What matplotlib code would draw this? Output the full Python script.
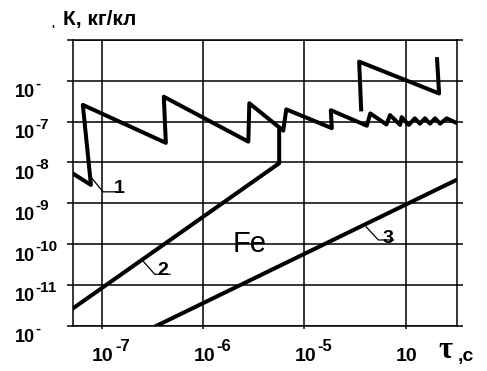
import numpy as np
from matplotlib import pyplot as plt

plt.rcParams['font.family'] = ['Liberation Sans', 'DejaVu Sans']

# all values are log10: tau in s, K in kg/C
curve1_lgt = [-7.29, -7.11, -7.19, -6.37, -6.39, -5.555, -5.545, -5.21, -5.18,
              -4.73, -4.74, -4.384, -4.35, -4.19, -4.155, -4.055, -4.04, -3.97,
              -3.91, -3.86, -3.81, -3.76, -3.71, -3.66, -3.595, -3.50]
curve1_lgk = [-8.27, -8.55, -6.59, -7.52, -6.39, -7.49, -6.55, -7.22, -6.70,
              -7.16, -6.72, -7.10, -6.80, -7.07, -6.84, -7.08, -6.89, -7.08,
              -6.92, -7.05, -6.92, -7.05, -6.92, -7.05, -6.92, -7.03]
branch_lgt = [-4.44, -4.46, -3.67, -3.69]
branch_lgk = [-6.70, -5.53, -6.31, -5.47]
curve2_lgt = [-7.29, -5.25, -5.25]
curve2_lgk = [-11.58, -8.02, -7.22]
curve3_lgt = [-6.46, -3.50]
curve3_lgk = [-12.0, -8.43]

# curve number labels and their leader lines
label_names = ['1', '2', '3']
label_lgt = [-6.83, -6.40, -4.18]
label_lgk = [-8.65, -10.65, -9.86]
leader_lgt = [[-7.10, -6.99, -6.87], [-6.59, -6.48, -6.33], [-4.39, -4.27, -4.12]]
leader_lgk = [[-8.39, -8.72, -8.72], [-10.43, -10.74, -10.74], [-9.58, -9.90, -9.90]]

xtick_exp = [-7, -6, -5, -4]
xtick_sup = ['-7', '-6', '-5', '']
ytick_exp = [-6, -7, -8, -9, -10, -11, -12]
ytick_sup = ['-', '-7', '-8', '-9', '-10', '-11', '-']


def p10(v):
    return 10.0 ** np.asarray(v)


fig = plt.figure(figsize=(4.87, 3.71), dpi=100)
ax = fig.add_axes([0.1493, 0.1221, 0.7885, 0.7701])
ax.set_xscale('log')
ax.set_yscale('log')
ax.set_xlim(10 ** -7.29, 10 ** -3.496)
ax.set_ylim(1e-12, 1e-5)

ax.set_xticks(p10(xtick_exp))
ax.set_yticks(p10(np.arange(-12, -4)))
ax.minorticks_off()
ax.set_xticklabels([])
ax.set_yticklabels([])
ax.grid(True, which='major', color='black', lw=1.1)
ax.set_axisbelow(True)
for s in ax.spines.values():
    s.set_linewidth(1.1)
ax.tick_params(axis='y', which='major', left=True, right=True, direction='out',
               length=4.5, width=1.1)
ax.tick_params(axis='x', which='major', bottom=True, direction='out',
               length=2, width=1.1)

lw = 2.9
ax.plot(p10(curve1_lgt), p10(curve1_lgk), color='black', lw=lw)
ax.plot(p10(branch_lgt), p10(branch_lgk), color='black', lw=lw)
ax.plot(p10(curve2_lgt), p10(curve2_lgk), color='black', lw=lw)
ax.plot(p10(curve3_lgt), p10(curve3_lgk), color='black', lw=lw)

for name, tx, ty, lx, ly in zip(label_names, label_lgt, label_lgk, leader_lgt, leader_lgk):
    ax.plot(p10(lx), p10(ly), color='black', lw=0.9)
    ax.text(10 ** tx, 10 ** ty, name, fontsize=14, fontweight='bold',
            ha='center', va='center')

ax.text(10 ** -5.54, 10 ** -10.0, 'Fe', fontsize=21, ha='center', va='center')

# tick labels: "10" plus a big superscript, like in the scan
for e, sup in zip(xtick_exp, xtick_sup):
    ax.annotate('10', xy=(10 ** e, 0), xycoords=('data', 'axes fraction'),
                xytext=(-10, -31), textcoords='offset pixels',
                ha='left', va='center', fontsize=14, fontweight='bold')
    if sup:
        ax.annotate(sup, xy=(10 ** e, 0), xycoords=('data', 'axes fraction'),
                    xytext=(13, -21), textcoords='offset pixels',
                    ha='left', va='center', fontsize=12, fontweight='bold')

for e, sup in zip(ytick_exp, ytick_sup):
    ax.annotate('10', xy=(0, 10 ** e), xycoords=('axes fraction', 'data'),
                xytext=(-58, -12), textcoords='offset pixels',
                ha='left', va='center', fontsize=13, fontweight='bold')
    ax.annotate(sup, xy=(0, 10 ** e), xycoords=('axes fraction', 'data'),
                xytext=(-37, -3), textcoords='offset pixels',
                ha='left', va='center', fontsize=11, fontweight='bold')

fig.text(63 / 487, 1 - 19 / 371, 'К, кг/кл', fontsize=15, fontweight='bold',
         ha='left', va='center')
fig.text(53 / 487, 1 - 31 / 371, "'", fontsize=9, fontweight='bold',
         ha='center', va='center')
fig.text(445 / 487, 1 - 350 / 371, 'τ', fontsize=22, fontweight='bold',
         family=['Liberation Serif', 'DejaVu Serif'], ha='center', va='center')
fig.text(458 / 487, 1 - 356 / 371, ',c', fontsize=14, fontweight='bold',
         ha='left', va='center')

fig.savefig('out.png', dpi=100)
